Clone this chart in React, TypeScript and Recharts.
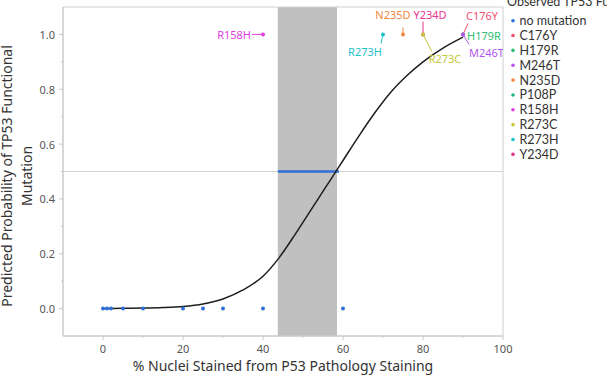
import React from 'react';
import {
  ComposedChart,
  Line,
  Scatter,
  XAxis,
  YAxis,
  ReferenceArea,
  ReferenceLine,
} from 'recharts';

// Fitted logistic curve, read at a handful of x positions
const curveX = [0, 5, 10, 15, 20, 25, 30, 35, 40, 44, 48, 52, 56, 58, 60, 64, 68, 72, 76, 80, 85, 90];
const curveP = [0.0, 0.001, 0.002, 0.004, 0.008, 0.017, 0.035, 0.068, 0.118, 0.185, 0.27, 0.36, 0.45, 0.495, 0.54, 0.63, 0.715, 0.79, 0.85, 0.9, 0.95, 0.99];

// Observed cases without a mutation (probability 0)
const noMutationX = [0, 1, 2, 5, 10, 20, 25, 30, 40, 60];

// Observed mutations (probability 1)
const mutationNames = ['R158H', 'R273H', 'N235D', 'Y234D', 'R273C', 'C176Y', 'H179R', 'M246T'];
const mutationX = [40, 70, 75, 80, 80, 90, 90, 90];

// Legend entries
const legendNames = ['no mutation', 'C176Y', 'H179R', 'M246T', 'N235D', 'P108P', 'R158H', 'R273C', 'R273H', 'Y234D'];
const legendColors = ['#2e6fd8', '#f2506e', '#2fbf71', '#b455f0', '#f0883e', '#1fb38f', '#e03ee0', '#c5c83c', '#1fc0c8', '#e8358e'];

// Inverse prediction interval at p = 0.5
const bandLo = 43.7;
const bandHi = 58.5;
const lineHi = 59;

const xTicks = [0, 10, 20, 30, 40, 50, 60, 70, 80, 90, 100];
const yTicks = [0, 0.1, 0.2, 0.3, 0.4, 0.5, 0.6, 0.7, 0.8, 0.9, 1.0];

const FONT = '"Noto Sans", "Open Sans", sans-serif';
const LEGEND_FONT = 'Lato, "Noto Sans", sans-serif';
const AXIS = '#c8c8c8';

const colorOf = (name: string) => legendColors[legendNames.indexOf(name)];

const curve = curveX.map((x, i) => ({ x, y: curveP[i] }));
const noMutation = noMutationX.map((x) => ({ x, y: 0 }));
const mutations = mutationNames.map((name, i) => ({ x: mutationX[i], y: 1, name }));

// label placement around each marker: text centre offset, anchor, leader end
const labelPos: Record<string, { tx: number; ty: number; anchor: string; lx?: number; ly?: number }> = {
  R158H: { tx: -12, ty: 0, anchor: 'end', lx: -11, ly: 0 },
  R273H: { tx: -18, ty: 17, anchor: 'middle', lx: -2, ly: 9 },
  N235D: { tx: -10, ty: -20, anchor: 'middle', lx: 0, ly: -7 },
  Y234D: { tx: 7, ty: -20, anchor: 'middle', lx: 0, ly: -13 },
  R273C: { tx: 22, ty: 24, anchor: 'middle', lx: 9, ly: 17 },
  C176Y: { tx: 19, ty: -19, anchor: 'middle', lx: 5, ly: -11 },
  H179R: { tx: 4, ty: 1, anchor: 'start' },
  M246T: { tx: 6, ty: 18, anchor: 'start', lx: 6, ly: 10 },
};

const XTick = ({ x, y, payload }: any) => {
  const v = payload.value;
  const major = v % 20 === 0;
  return (
    <g>
      <line x1={x} x2={x} y1={y} y2={y + (major ? 4 : 2)} stroke={AXIS} />
      {major && (
        <text x={x} y={y + 17} textAnchor="middle" fill="#555" fontSize={11} fontFamily={FONT}>
          {v}
        </text>
      )}
    </g>
  );
};

const YTick = ({ x, y, payload }: any) => {
  const v = payload.value;
  const major = Math.round(v * 10) % 2 === 0;
  return (
    <g>
      <line x1={x - (major ? 4 : 2)} x2={x} y1={y} y2={y} stroke={AXIS} />
      {major && (
        <text x={x - 8} y={y} textAnchor="end" dominantBaseline="central" fill="#555" fontSize={11} fontFamily={FONT}>
          {v.toFixed(1)}
        </text>
      )}
    </g>
  );
};

const smallDot = (color: string) => (props: any) => (
  <circle cx={props.cx} cy={props.cy} r={2} fill={color} />
);

const MutationMark = (props: any) => {
  const { cx, cy, payload } = props;
  const name = payload.name;
  const c = colorOf(name);
  const p = labelPos[name];
  return (
    <g>
      {p.lx !== undefined && (
        <line x1={cx} y1={cy} x2={cx + p.lx} y2={cy + (p.ly || 0)} stroke={c} strokeWidth={1} />
      )}
      <circle cx={cx} cy={cy} r={2} fill={c} />
      <text
        x={cx + p.tx}
        y={cy + p.ty}
        textAnchor={p.anchor as any}
        dominantBaseline="central"
        fill={c}
        fontSize={11}
        fontFamily={FONT}
      >
        {name}
      </text>
    </g>
  );
};

export default function App() {
  return (
    <div style={{ position: 'absolute', left: 0, top: 0, width: 607, height: 375, background: '#fff' }}>
      <ComposedChart width={607} height={375} margin={{ top: 7, right: 104, bottom: 0, left: 0 }}>
        <XAxis
          type="number"
          dataKey="x"
          domain={[-10, 100]}
          ticks={xTicks}
          interval={0}
          allowDataOverflow
          height={39}
          stroke={AXIS}
          tickLine={false}
          tickSize={0}
          tickMargin={0}
          tick={<XTick />}
        />
        <YAxis
          type="number"
          dataKey="y"
          domain={[-0.1, 1.1]}
          ticks={yTicks}
          interval={0}
          allowDataOverflow
          width={63}
          stroke={AXIS}
          tickLine={false}
          tickSize={0}
          tickMargin={0}
          tick={<YTick />}
        />
        <ReferenceArea x1={bandLo} x2={bandHi} y1={-0.1} y2={1.1} fill="#c0c0c0" fillOpacity={1} stroke="none" />
        <ReferenceLine y={0.5} stroke="#d2d2d2" strokeWidth={1} />
        <ReferenceLine
          segment={[
            { x: bandLo, y: 0.5 },
            { x: lineHi, y: 0.5 },
          ]}
          stroke="#2e6fd8"
          strokeWidth={2.5}
        />
        <ReferenceArea x1={-10} x2={100} y1={-0.1} y2={1.1} fill="none" stroke="#cfcfcf" />
        <Line
          data={curve}
          dataKey="y"
          type="monotone"
          stroke="#1e1e1e"
          strokeWidth={1.5}
          dot={false}
          activeDot={false}
          isAnimationActive={false}
        />
        <Scatter data={noMutation} shape={smallDot(legendColors[0])} isAnimationActive={false} />
        <Scatter data={mutations} shape={MutationMark} isAnimationActive={false} />
      </ComposedChart>

      <svg width={607} height={375} style={{ position: 'absolute', left: 0, top: 0, pointerEvents: 'none' }}>
        <g fontFamily={FONT} fontSize={14} fill="#333">
          <text transform="translate(11.5,176) rotate(-90)" textAnchor="middle">
            Predicted Probability of TP53 Functional
          </text>
          <text transform="translate(31.5,176) rotate(-90)" textAnchor="middle">
            Mutation
          </text>
          <text x={283} y={371} textAnchor="middle">
            % Nuclei Stained from P53 Pathology Staining
          </text>
        </g>
        <g fontFamily={LEGEND_FONT} fontSize={12.5} fill="#333">
          <text x={507} y={6}>Observed TP53 Functional Mutation</text>
          {legendNames.map((name, i) => (
            <g key={name}>
              <circle cx={513} cy={20.7 + i * 14.85} r={1.8} fill={legendColors[i]} />
              <text x={519.5} y={20.7 + i * 14.85} dominantBaseline="central">
                {name}
              </text>
            </g>
          ))}
        </g>
      </svg>
    </div>
  );
}
